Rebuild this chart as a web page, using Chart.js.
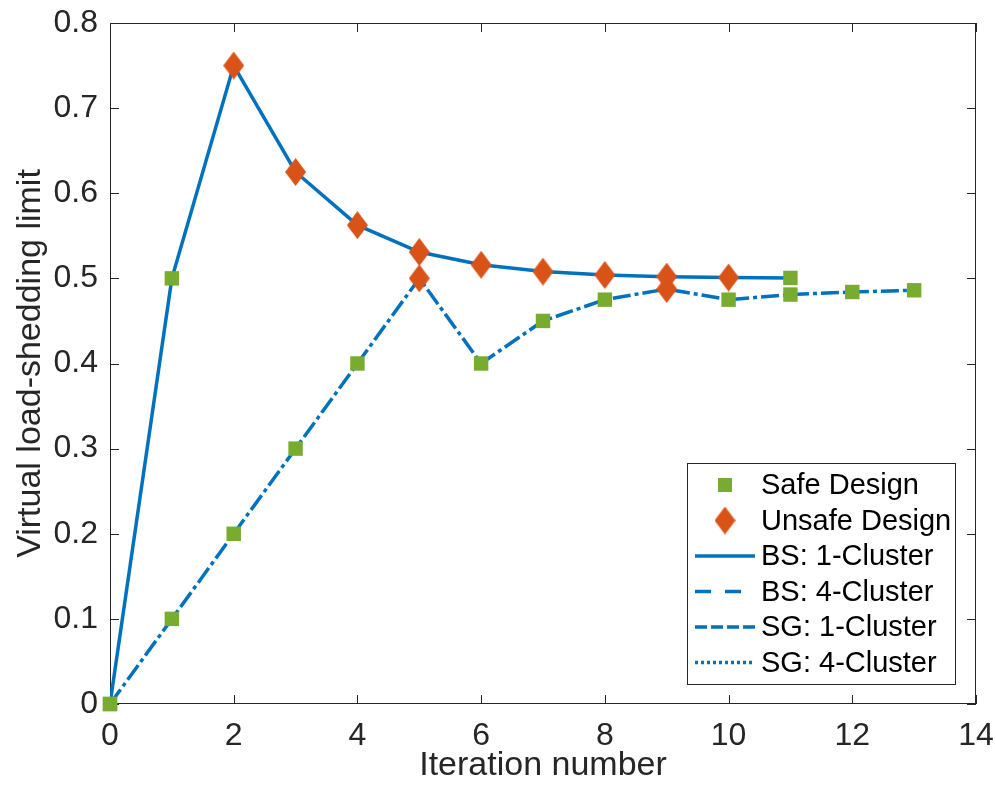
<!DOCTYPE html>
<html>
<head>
<meta charset="utf-8">
<script src="https://cdn.jsdelivr.net/npm/chart.js@4"></script>
<style>
  body { margin: 0; background: #fff; }
  canvas { display: block; }
</style>
</head>
<body>
<canvas id="myChart" width="996" height="791"></canvas>
<script>
// values
let iterations = [0, 1, 2, 3, 4, 5, 6, 7, 8, 9, 10, 11, 12, 13];
let bs1Values = [0, 0.5, 0.75, 0.625, 0.5625, 0.531, 0.516, 0.508, 0.504, 0.502, 0.501, 0.5005];
let sg1Values = [0, 0.1, 0.2, 0.3, 0.4, 0.5, 0.4, 0.45, 0.475, 0.4875, 0.475, 0.481, 0.484, 0.486];
// the 4-cluster curves only show up in the legend
let bs4Values = [];
let sg4Values = [];
// which iterations were safe / unsafe on each curve
let bsSafe = [0, 1, 11];
let bsUnsafe = [2, 3, 4, 5, 6, 7, 8, 9, 10];
let sgSafe = [0, 1, 2, 3, 4, 6, 7, 8, 10, 11, 12, 13];
let sgUnsafe = [5, 9];
let xTicks = [0, 2, 4, 6, 8, 10, 12, 14];
let yTicks = [0, 0.1, 0.2, 0.3, 0.4, 0.5, 0.6, 0.7, 0.8];

var blue = "#0072BD", green = "#77AC30", orange = "#D95319", axisColor = "#262626";
var fontFamily = "'Liberation Sans', Arial, Helvetica, sans-serif";
var sgDash = [18, 4, 4, 4];

function toPoints(vals) {
    return vals.map(function (v, i) { return {x: iterations[i], y: v}; });
}
function pick(vals, iters) {
    return iters.map(function (it) { return {x: it, y: vals[it]}; });
}

// diamond marker (taller than wide, like the figure)
function makeDiamond(w, h) {
    var c = document.createElement("canvas");
    c.width = w; c.height = h;
    var g = c.getContext("2d");
    g.fillStyle = orange;
    g.beginPath();
    g.moveTo(w / 2, 0); g.lineTo(w, h / 2); g.lineTo(w / 2, h); g.lineTo(0, h / 2);
    g.closePath(); g.fill();
    return c;
}
var diamond = makeDiamond(21, 28);

var legendItems = [
    {text: "Safe Design", marker: "square"},
    {text: "Unsafe Design", marker: "diamond"},
    {text: "BS: 1-Cluster", dash: []},
    {text: "BS: 4-Cluster", dash: [16, 14]},
    {text: "SG: 1-Cluster", dash: [12, 4, 12, 4]},
    {text: "SG: 4-Cluster", dash: [3, 3]}
];

var frame = {
    id: "frame",
    beforeDatasetsDraw: function (chart) {
        var ctx = chart.ctx, a = chart.chartArea, xs = chart.scales.x, ys = chart.scales.y;
        ctx.save();
        ctx.strokeStyle = axisColor;
        ctx.lineWidth = 1;
        ctx.strokeRect(a.left + 0.5, a.top + 0.5, a.right - a.left - 1, a.bottom - a.top - 1);
        ctx.beginPath();
        xTicks.forEach(function (v) {
            var px = Math.round(xs.getPixelForValue(v)) + 0.5;
            ctx.moveTo(px, a.bottom); ctx.lineTo(px, a.bottom - 9);
            ctx.moveTo(px, a.top); ctx.lineTo(px, a.top + 9);
        });
        yTicks.forEach(function (v) {
            var py = Math.round(ys.getPixelForValue(v)) + 0.5;
            ctx.moveTo(a.left, py); ctx.lineTo(a.left + 9, py);
            ctx.moveTo(a.right, py); ctx.lineTo(a.right - 9, py);
        });
        ctx.stroke();
        ctx.restore();
    },
    afterDraw: function (chart) {
        var ctx = chart.ctx;
        var bx = 687, by = 463, bw = 269, bh = 222;
        ctx.save();
        ctx.fillStyle = "#fff";
        ctx.fillRect(bx, by, bw, bh);
        ctx.strokeStyle = axisColor;
        ctx.lineWidth = 1;
        ctx.strokeRect(bx + 0.5, by + 0.5, bw - 1, bh - 1);
        ctx.font = "29px " + fontFamily;
        ctx.textBaseline = "middle";
        legendItems.forEach(function (item, i) {
            var cy = 485 + i * 35.5;
            if (item.marker === "square") {
                ctx.fillStyle = green;
                ctx.fillRect(725 - 7, cy - 7, 14, 14);
            } else if (item.marker === "diamond") {
                ctx.drawImage(diamond, 725 - 10.5, cy - 14);
            } else {
                ctx.strokeStyle = blue;
                ctx.lineWidth = 3.5;
                ctx.setLineDash(item.dash);
                ctx.beginPath();
                ctx.moveTo(695, cy); ctx.lineTo(755, cy);
                ctx.stroke();
                ctx.setLineDash([]);
            }
            ctx.fillStyle = "#000";
            ctx.fillText(item.text, 761, cy + 1);
        });
        ctx.restore();
    }
};

new Chart("myChart", {
    type: "scatter",
    data: {
        datasets: [
            {
                label: "Safe Design",
                data: pick(bs1Values, bsSafe).concat(pick(sg1Values, sgSafe)),
                pointStyle: "rect",
                pointRadius: 10.2,
                backgroundColor: green,
                borderColor: green,
                borderWidth: 0,
                showLine: false,
                clip: false
            },
            {
                label: "Unsafe Design",
                data: pick(bs1Values, bsUnsafe).concat(pick(sg1Values, sgUnsafe)),
                pointStyle: diamond,
                showLine: false,
                clip: false
            },
            {
                label: "BS: 1-Cluster",
                data: toPoints(bs1Values),
                showLine: true,
                borderColor: blue,
                borderWidth: 3.5,
                pointRadius: 0
            },
            {
                label: "BS: 4-Cluster",
                data: toPoints(bs4Values),
                showLine: true,
                borderColor: blue,
                borderWidth: 3.5,
                borderDash: [16, 14],
                pointRadius: 0
            },
            {
                label: "SG: 1-Cluster",
                data: toPoints(sg1Values),
                showLine: true,
                borderColor: blue,
                borderWidth: 3.5,
                borderDash: sgDash,
                pointRadius: 0
            },
            {
                label: "SG: 4-Cluster",
                data: toPoints(sg4Values),
                showLine: true,
                borderColor: blue,
                borderWidth: 3.5,
                borderDash: [3, 3],
                pointRadius: 0
            }
        ]
    },
    options: {
        responsive: false,
        animation: false,
        layout: {padding: {top: 23, right: 20, left: 0, bottom: 0}},
        plugins: {
            legend: {display: false},
            tooltip: {enabled: false}
        },
        scales: {
            x: {
                type: "linear",
                min: 0, max: 14,
                afterBuildTicks: function (s) { s.ticks = xTicks.map(function (v) { return {value: v}; }); },
                afterFit: function (s) { s.height = 87; s.paddingLeft = 0; s.paddingRight = 0; },
                grid: {display: false, drawTicks: false},
                border: {display: false},
                ticks: {
                    color: axisColor,
                    padding: 13,
                    maxRotation: 0,
                    font: {family: fontFamily, size: 32}
                },
                title: {
                    display: true,
                    text: "Iteration number",
                    color: axisColor,
                    padding: {top: 0, bottom: 5},
                    font: {family: fontFamily, size: 34}
                }
            },
            y: {
                type: "linear",
                min: 0, max: 0.8,
                afterBuildTicks: function (s) { s.ticks = yTicks.map(function (v) { return {value: v}; }); },
                afterFit: function (s) { s.width = 110; s.paddingTop = 0; s.paddingBottom = 0; },
                grid: {display: false, drawTicks: false},
                border: {display: false},
                ticks: {
                    color: axisColor,
                    padding: 12,
                    font: {family: fontFamily, size: 32},
                    callback: function (v) { return String(+v.toFixed(1)); }
                },
                title: {
                    display: true,
                    text: "Virtual load-shedding limit",
                    color: axisColor,
                    padding: {top: 10, bottom: 0},
                    font: {family: fontFamily, size: 34}
                }
            }
        }
    },
    plugins: [frame]
});
</script>
</body>
</html>
